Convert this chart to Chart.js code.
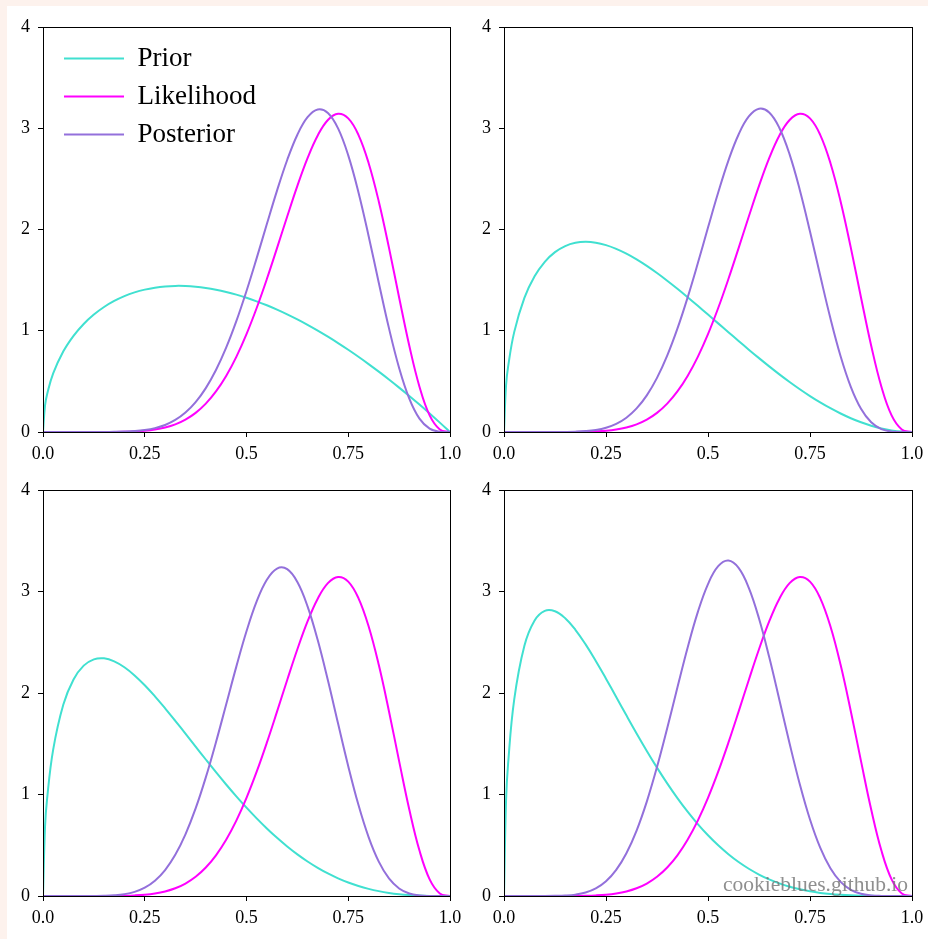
<!DOCTYPE html>
<html>
<head>
<meta charset="utf-8">
<script src="https://cdn.jsdelivr.net/npm/chart.js@4.4.1/dist/chart.umd.min.js"></script>
<style>
  html, body { margin: 0; padding: 0; background: #fdf2ed; width: 928px; height: 939px; overflow: hidden; }
  #page { position: absolute; left: 7px; top: 6px; width: 921px; height: 933px; background: #fff; }
  canvas { position: absolute; }
  #mark { position: absolute; right: 20px; top: 874px; font-family: 'Liberation Serif', serif; font-size: 21.5px;
          color: rgba(115, 115, 115, 0.8); line-height: 1; white-space: nowrap; }
</style>
</head>
<body>
<div id="page"></div>
<canvas id="c1" width="464" height="464" style="left:0px;top:0px;width:464px;height:464px"></canvas>
<canvas id="c2" width="465" height="464" style="left:461px;top:0px;width:465px;height:464px"></canvas>
<canvas id="c3" width="464" height="465" style="left:0px;top:463px;width:464px;height:465px"></canvas>
<canvas id="c4" width="465" height="465" style="left:461px;top:463px;width:465px;height:465px"></canvas>
<div id="mark">cookieblues.github.io</div>
<script>
// x positions of the samples
const xs = [0, 0.005, 0.01, 0.025, 0.05, 0.075, 0.1, 0.125, 0.15, 0.175, 0.2, 0.225, 0.25, 0.275, 0.3,
  0.325, 0.35, 0.375, 0.4, 0.425, 0.45, 0.475, 0.5, 0.525, 0.55, 0.575, 0.6, 0.625, 0.65, 0.675, 0.7,
  0.725, 0.75, 0.775, 0.8, 0.825, 0.85, 0.875, 0.9, 0.925, 0.95, 0.975, 1];

// same likelihood in every panel
const likelihood = [0, 0, 0, 0, 0, 0, 0, 0.0001, 0.0003, 0.001, 0.0026, 0.0061, 0.0127, 0.0247, 0.0446,
  0.0758, 0.1225, 0.189, 0.2803, 0.4007, 0.5539, 0.7425, 0.9668, 1.2246, 1.5107, 1.8162, 2.1283, 2.4311,
  2.7051, 2.9292, 3.082, 3.1433, 3.0973, 2.9352, 2.6576, 2.2773, 1.8209, 1.3288, 0.8523, 0.4477, 0.1642,
  0.0253, 0];

const prior1 = [0, 0.2638, 0.3713, 0.5781, 0.7966, 0.95, 1.0673, 1.1601, 1.2345, 1.2942, 1.3416, 1.3786,
  1.4063, 1.4257, 1.4378, 1.443, 1.442, 1.4352, 1.423, 1.4057, 1.3836, 1.3569, 1.3258, 1.2906, 1.2515,
  1.2085, 1.1619, 1.1117, 1.0582, 1.0013, 0.9412, 0.8781, 0.8119, 0.7428, 0.6708, 0.5961, 0.5186, 0.4385,
  0.3558, 0.2705, 0.1828, 0.0926, 0];
const prior2 = [0, 0.4593, 0.6433, 0.9864, 1.3243, 1.5378, 1.681, 1.7764, 1.8363, 1.8685, 1.8782, 1.8697,
  1.8458, 1.8089, 1.7613, 1.7045, 1.6403, 1.5698, 1.4942, 1.4145, 1.3317, 1.2467, 1.1601, 1.0728, 0.9856,
  0.8988, 0.8133, 0.7296, 0.6481, 0.5695, 0.4941, 0.4226, 0.3552, 0.2925, 0.2348, 0.1826, 0.1361, 0.0959,
  0.0623, 0.0355, 0.016, 0.0041, 0];
const prior3 = [0, 0.6855, 0.9553, 1.4426, 1.8871, 2.1337, 2.2694, 2.3315, 2.3413, 2.3123, 2.2538, 2.1735,
  2.0765, 1.9672, 1.8494, 1.7258, 1.5993, 1.4717, 1.3448, 1.22, 1.0987, 0.9818, 0.8701, 0.7644, 0.6653,
  0.573, 0.488, 0.4104, 0.3403, 0.2776, 0.2223, 0.1743, 0.1332, 0.0987, 0.0704, 0.0479, 0.0306, 0.018,
  0.0093, 0.004, 0.0012, 0.0002, 0];
const prior4 = [0, 0.9378, 1.3004, 1.934, 2.465, 2.7138, 2.8084, 2.8051, 2.7364, 2.623, 2.4792, 2.3161,
  2.1414, 1.9611, 1.78, 1.6018, 1.4294, 1.2647, 1.1095, 0.9646, 0.8309, 0.7087, 0.5982, 0.4992, 0.4117,
  0.3348, 0.2684, 0.2116, 0.1638, 0.1241, 0.0917, 0.0659, 0.0458, 0.0305, 0.0194, 0.0115, 0.0063, 0.0031,
  0.0013, 0.0004, 0.0001, 0, 0];

const post1 = [0, 0, 0, 0, 0, 0, 0, 0.0001, 0.0004, 0.0014, 0.0038, 0.0091, 0.0195, 0.0382, 0.0696, 0.1188,
  0.1918, 0.2947, 0.4333, 0.6118, 0.8325, 1.0944, 1.3924, 1.717, 2.0538, 2.3843, 2.6863, 2.936, 3.1095,
  3.1862, 3.1512, 2.9982, 2.7317, 2.3683, 1.9366, 1.4745, 1.0258, 0.6329, 0.3294, 0.1316, 0.0326, 0.0025, 0];
const post2 = [0, 0, 0, 0, 0, 0, 0, 0.0003, 0.001, 0.0033, 0.0088, 0.0204, 0.0424, 0.0804, 0.1413, 0.2326,
  0.3616, 0.5342, 0.7539, 1.0202, 1.3279, 1.6662, 2.019, 2.3651, 2.6803, 2.9386, 3.1161, 3.1929, 3.1561,
  3.003, 2.7416, 2.3911, 1.9805, 1.5453, 1.1232, 0.7483, 0.4462, 0.2294, 0.0955, 0.0286, 0.0047, 0.0002, 0];
const post3 = [0, 0, 0, 0, 0, 0, 0, 0.0007, 0.0023, 0.007, 0.0181, 0.0408, 0.0821, 0.1505, 0.2555, 0.4055,
  0.6072, 0.8625, 1.1685, 1.5154, 1.8867, 2.2598, 2.6078, 2.9022, 3.1158, 3.2264, 3.2199, 3.0932, 2.8537,
  2.5212, 2.1247, 1.6987, 1.2791, 0.8982, 0.5803, 0.3383, 0.1729, 0.0741, 0.0247, 0.0055, 0.0006, 0, 0];
const post4 = [0, 0, 0, 0, 0, 0, 0, 0.0014, 0.0046, 0.0136, 0.0342, 0.0745, 0.1451, 0.2572, 0.4215, 0.6452,
  0.9303, 1.2707, 1.6526, 2.0539, 2.4459, 2.7965, 3.0735, 3.2494, 3.305, 3.2322, 3.036, 2.7341, 2.3543,
  1.9314, 1.5025, 1.1011, 0.7537, 0.4764, 0.2736, 0.1396, 0.0611, 0.0218, 0.0058, 0.001, 0.0001, 0, 0];

const seriesNames = ['Prior', 'Likelihood', 'Posterior'];
const xTickValues = [0, 0.25, 0.5, 0.75, 1];
const xTickLabels = ['0.0', '0.25', '0.5', '0.75', '1.0'];
const yTickValues = [0, 1, 2, 3, 4];

const colors = ['#40e0d0', '#ff00ff', '#9370db'];

Chart.defaults.font.family = "'Liberation Serif', serif";
Chart.defaults.font.size = 18;
Chart.defaults.color = '#000';

// box round the plot area
const frame = {
  id: 'frame',
  afterDraw(chart) {
    const a = chart.chartArea, ctx = chart.ctx;
    const l = Math.round(a.left) + 0.5, t = Math.round(a.top) + 0.5;
    const r = Math.round(a.right) + 0.5, b = Math.round(a.bottom) + 0.5;
    ctx.save();
    ctx.strokeStyle = '#000';
    ctx.lineWidth = 1;
    ctx.strokeRect(l, t, r - l, b - t);
    ctx.restore();
  }
};

// legend sits inside the plot, upper left
const legendSpot = {
  id: 'legendSpot',
  afterLayout(chart) {
    const lg = chart.legend;
    if (!lg || !lg.options.display) return;
    const a = chart.chartArea;
    lg.left = a.left + 10;
    lg.top = a.top + 7;
    lg.right = lg.left + lg.width;
    lg.bottom = lg.top + lg.height;
  }
};

function pts(ys) {
  return xs.map((x, i) => ({ x: x, y: ys[i] }));
}

function makeChart(id, prior, post, showLegend) {
  const series = [prior, likelihood, post];
  new Chart(document.getElementById(id), {
    type: 'line',
    data: {
      datasets: series.map((s, i) => ({
        label: seriesNames[i],
        data: pts(s),
        borderColor: colors[i],
        backgroundColor: colors[i],
        borderWidth: 2,
        pointRadius: 0,
        fill: false,
        tension: 0.4,
        order: 2 - i
      }))
    },
    options: {
      responsive: false,
      animation: false,
      layout: { padding: { top: 27, right: 14, left: 0, bottom: 0 } },
      plugins: {
        tooltip: { enabled: false },
        legend: {
          display: showLegend,
          position: 'chartArea',
          align: 'start',
          labels: {
            usePointStyle: true,
            pointStyle: 'line',
            pointStyleWidth: 60,
            font: { size: 27 },
            padding: 11,
            color: '#000',
            sort: (a, b) => a.datasetIndex - b.datasetIndex
          }
        }
      },
      scales: {
        x: {
          type: 'linear',
          min: 0, max: 1,
          afterFit: (s) => { s.height = 32; s.paddingLeft = 0; s.paddingRight = 0; },
          afterBuildTicks: (s) => { s.ticks = xTickValues.map(v => ({ value: v })); },
          ticks: {
            autoSkip: false, maxRotation: 0, padding: 6,
            callback: (v) => xTickLabels[xTickValues.indexOf(v)]
          },
          grid: { drawOnChartArea: false, drawTicks: true, tickLength: 5, color: '#000' },
          border: { display: true, color: '#000', width: 1 }
        },
        y: {
          type: 'linear',
          min: 0, max: 4,
          afterFit: (s) => { s.width = 43; },
          afterBuildTicks: (s) => { s.ticks = yTickValues.map(v => ({ value: v })); },
          ticks: { padding: 8, callback: (v) => String(v) },
          grid: { drawOnChartArea: false, drawTicks: true, tickLength: 5, color: '#000' },
          border: { display: true, color: '#000', width: 1 }
        }
      }
    },
    plugins: [frame, legendSpot]
  });
}

makeChart('c1', prior1, post1, true);
makeChart('c2', prior2, post2, false);
makeChart('c3', prior3, post3, false);
makeChart('c4', prior4, post4, false);
</script>
</body>
</html>
